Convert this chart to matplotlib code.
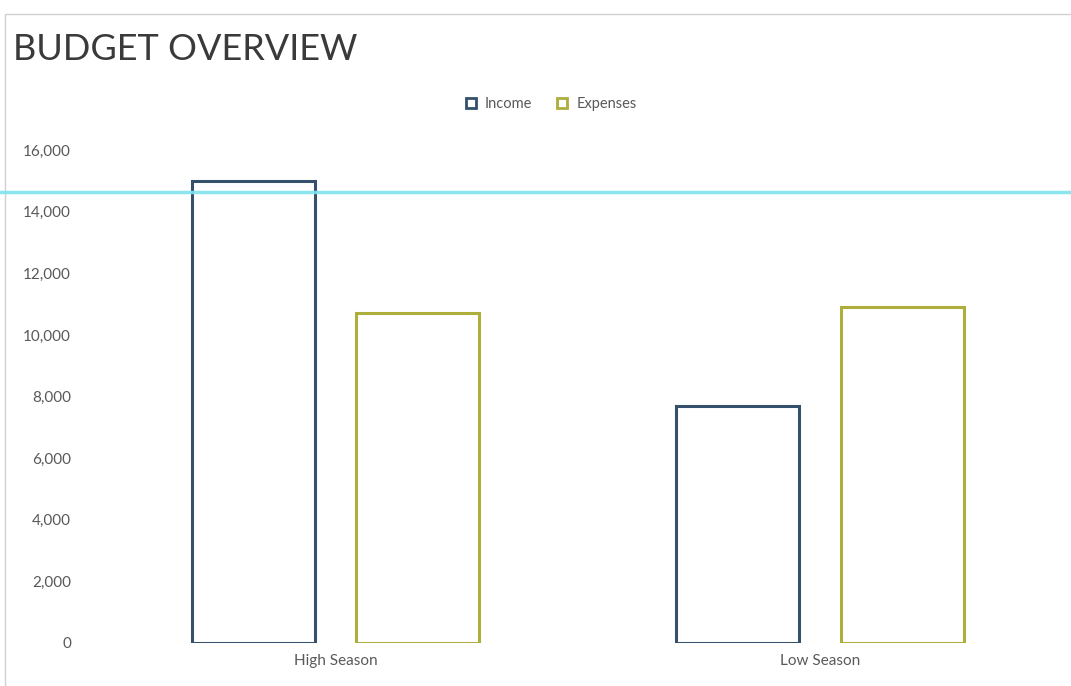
import matplotlib.pyplot as plt
import numpy as np
from matplotlib.lines import Line2D
from matplotlib.patches import Rectangle

plt.rcParams["font.family"] = ["Lato", "DejaVu Sans"]

categories = ["High Season", "Low Season"]
series_names = ["Income", "Expenses"]
income = [15000, 7700]
expenses = [10700, 10900]
y_ticks = [0, 2000, 4000, 6000, 8000, 10000, 12000, 14000, 16000]

income_color = "#34506a"
expenses_color = "#adae3c"
text_color = "#595959"

fig = plt.figure(figsize=(10.71, 6.86), dpi=100)
ax = fig.add_axes([0.087, 0.063, 0.905, 0.718])

x = np.arange(len(categories))
width = 0.254
offset = 0.17
ax.bar(x - offset, income, width, facecolor="white", edgecolor=income_color,
       linewidth=2.2, label=series_names[0])
ax.bar(x + offset, expenses, width, facecolor="white", edgecolor=expenses_color,
       linewidth=2.2, label=series_names[1])

ax.set_xlim(-0.5, 1.5)
ax.set_ylim(0, 16000)
ax.set_yticks(y_ticks)
ax.set_yticklabels([f"{v:,}" for v in y_ticks])
ax.set_xticks(x)
ax.set_xticklabels(categories)
ax.tick_params(axis="both", length=0, colors=text_color, labelsize=11)
ax.tick_params(axis="y", pad=16)
ax.tick_params(axis="x", pad=8)
for s in ax.spines.values():
    s.set_visible(False)

handles = [
    Line2D([], [], marker="s", linestyle="none", markersize=7,
           markerfacecolor="white", markeredgecolor=income_color, markeredgewidth=2),
    Line2D([], [], marker="s", linestyle="none", markersize=7,
           markerfacecolor="white", markeredgecolor=expenses_color, markeredgewidth=2),
]
fig.legend(handles, series_names, loc="center", bbox_to_anchor=(0.51, 0.848),
           ncol=2, frameon=False, fontsize=10.5, handletextpad=0.0,
           columnspacing=1.0, labelcolor=text_color)

fig.text(0.012, 0.928, "BUDGET OVERVIEW", fontsize=26, color="#3a3a3a",
         ha="left", va="center")

# scan frame and the cyan scanner streak
fig.patches.append(Rectangle((0.005, -0.01), 1.0, 0.99, transform=fig.transFigure,
                             fill=False, edgecolor="#d0d0d0", linewidth=1))
fig.lines.append(Line2D([0, 1], [0.72, 0.72], transform=fig.transFigure,
                        color="#7fe3ee", linewidth=2.5, alpha=0.9))

fig.savefig("out.png", dpi=100)
